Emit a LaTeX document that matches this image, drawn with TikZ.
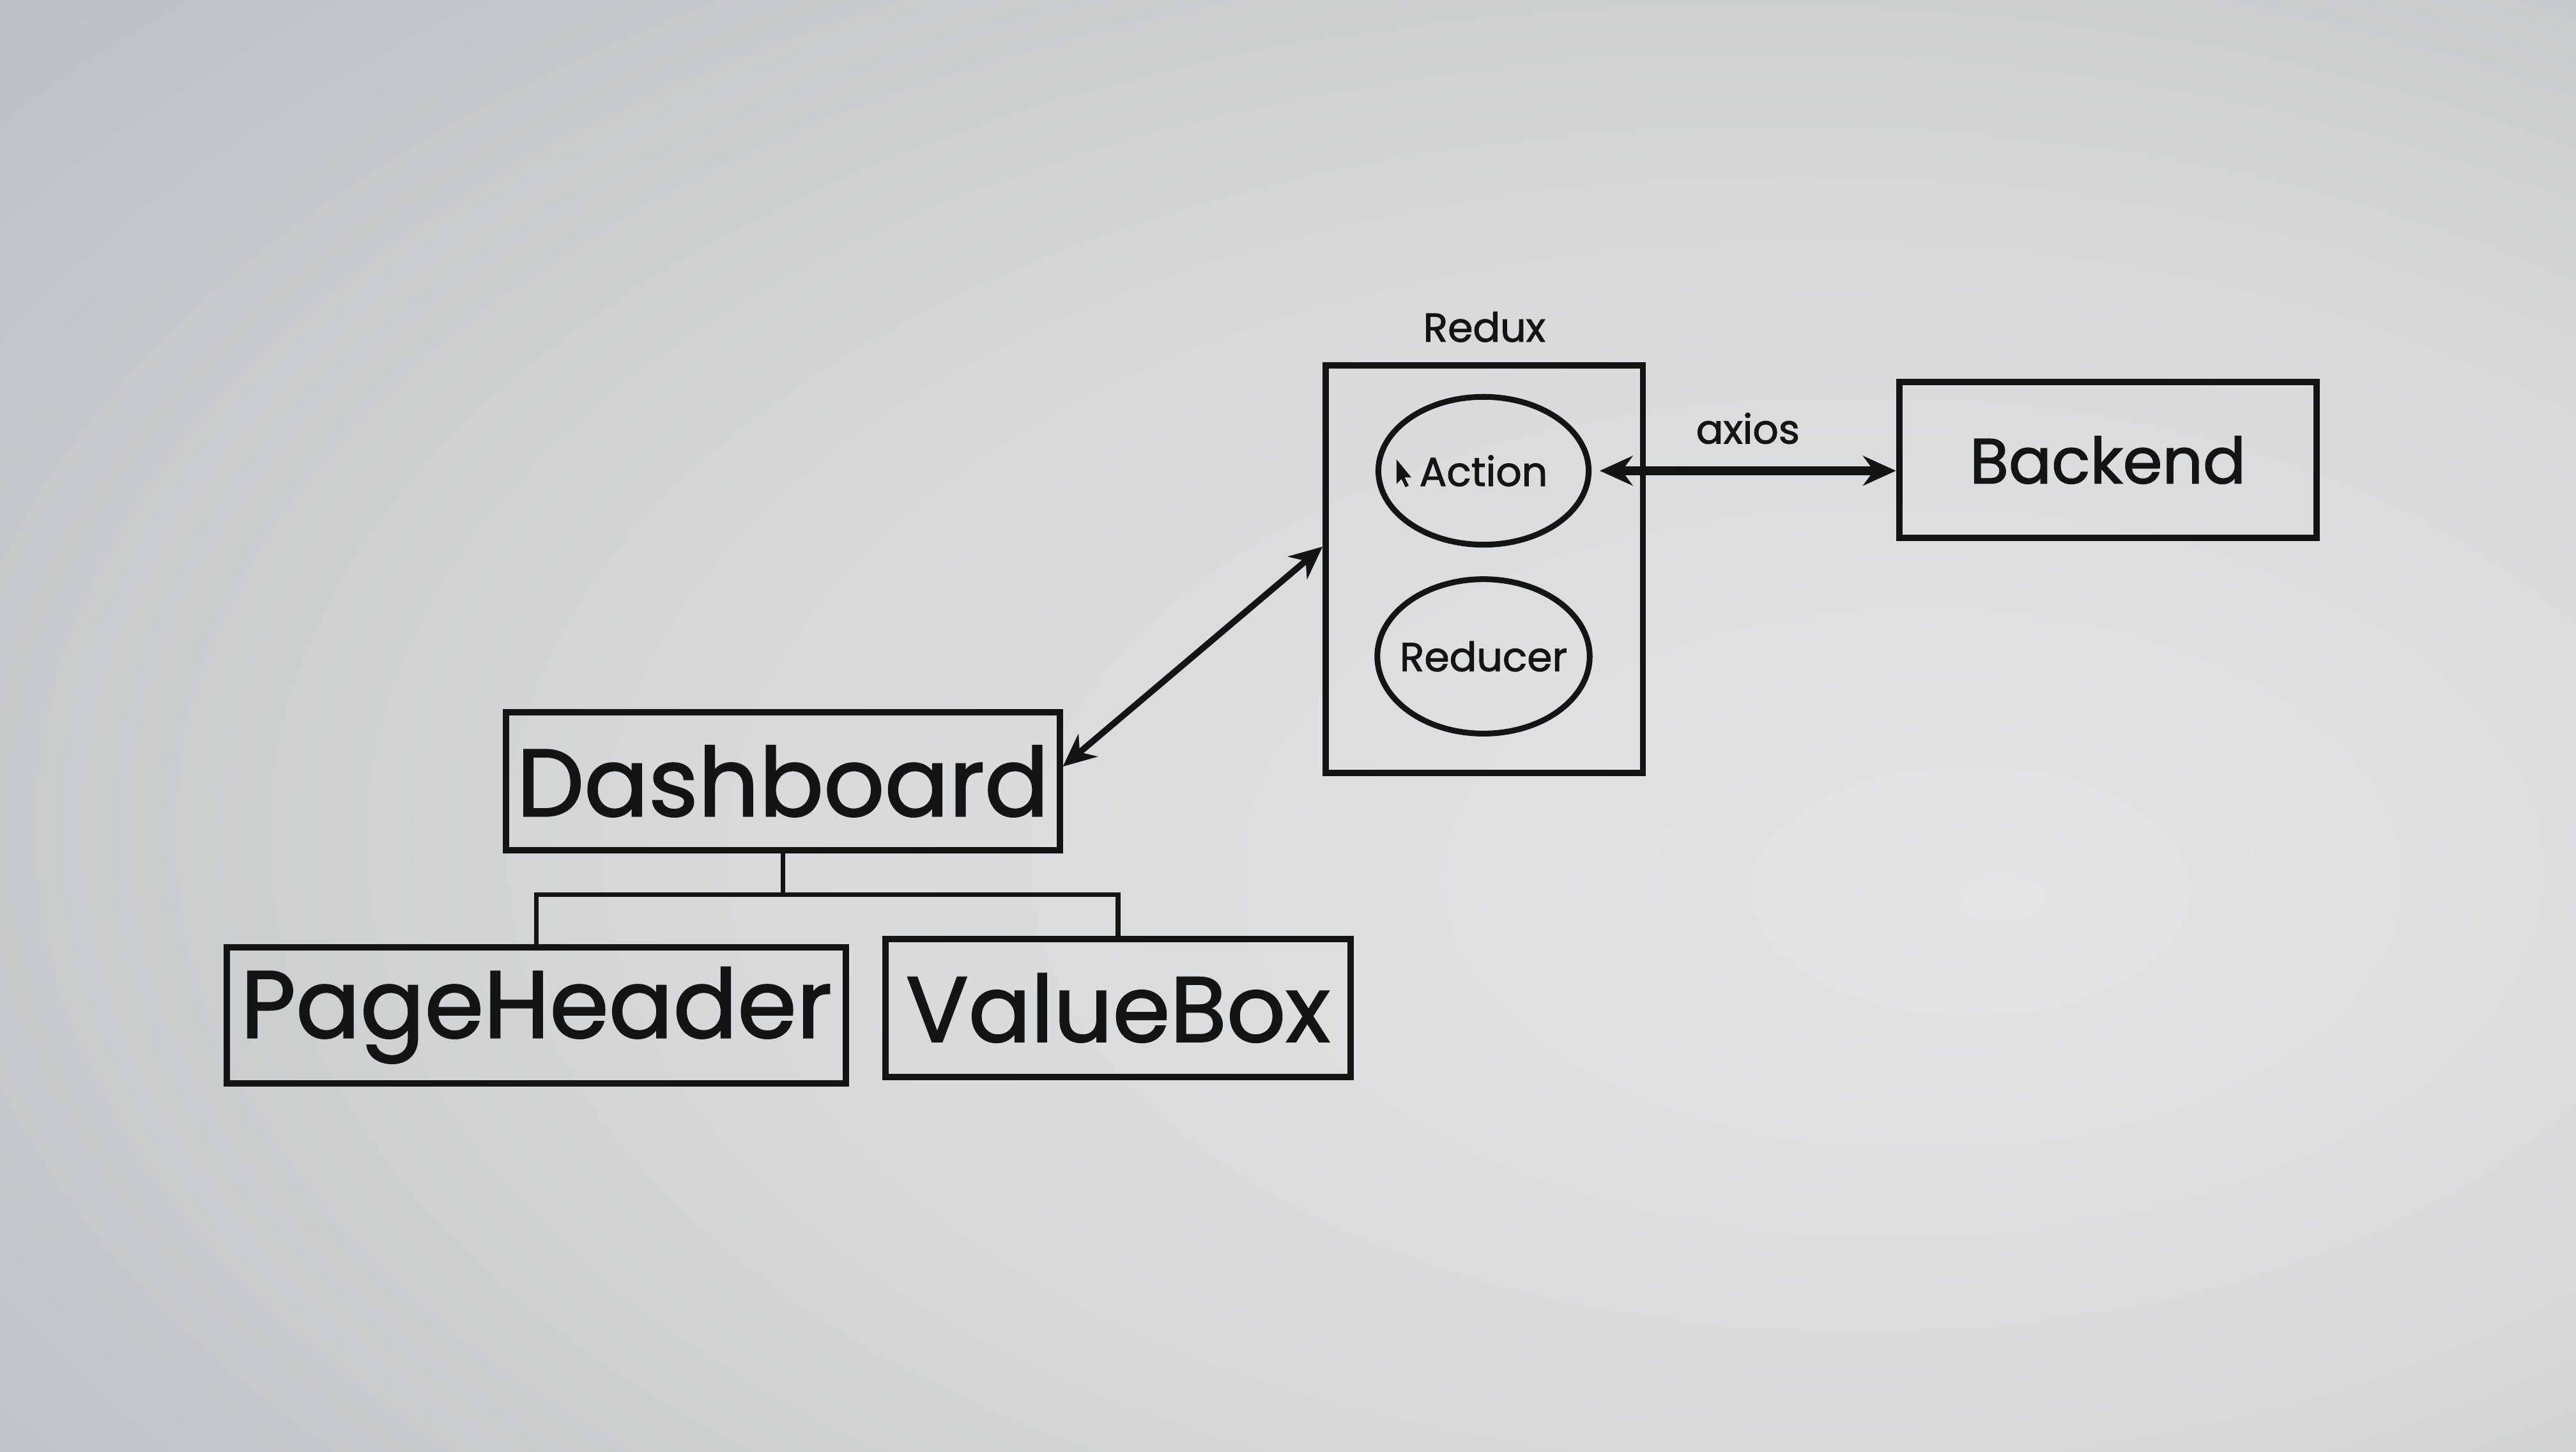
\documentclass[tikz,border=0pt]{standalone}
\usepackage{fontspec}
\setmainfont{Poppins}[FakeBold=1.6]
\usetikzlibrary{positioning,shapes.geometric,arrows.meta}

\definecolor{scrnA}{RGB}{228,230,230}
\definecolor{scrnB}{RGB}{214,216,217}
\definecolor{scrnC}{RGB}{178,182,185}
\definecolor{scrnD}{RGB}{138,142,146}
\definecolor{ink}{RGB}{20,20,20}
\pgfdeclareradialshading{screen}{\pgfpoint{14bp}{-6bp}}{color(0bp)=(scrnA); color(22bp)=(scrnB); color(50bp)=(scrnC); color(78bp)=(scrnD)}

\begin{document}
\begin{tikzpicture}[
  box/.style={draw=ink, line width=1.1pt, rectangle, inner sep=0pt, text=ink},
  bubble/.style={draw=ink, line width=1pt, ellipse, inner xsep=-1.5pt, inner ysep=0pt, minimum width=1.28cm, text=ink, font=\fontsize{7}{8}\selectfont},
  >={Stealth[length=2mm,width=1.8mm]}
]
\useasboundingbox (0,0) rectangle (15.68,8.836);
\shade[shading=screen] (0,0) rectangle (15.68,8.836);

% redux store
\node[box, minimum width=1.93cm, minimum height=2.48cm](redux) at (9.035,5.37){};
\node[above = 0.0cm of redux, text=ink, font=\fontsize{7}{8}\selectfont](reduxlabel){Redux};
\node[bubble, minimum height=0.90cm](action) at (9.03,5.97){Action};
\node[bubble, minimum height=0.94cm](reducer) at (9.03,4.84){Reducer};
\fill[ink] (8.50,6.04) -- (8.50,5.89) -- (8.53,5.92) -- (8.555,5.87) -- (8.575,5.88) -- (8.55,5.93) -- (8.59,5.93) -- cycle;

% backend
\node[box, minimum width=2.54cm, minimum height=0.95cm, font=\fontsize{11}{13}\selectfont](backend) at (12.83,6.035){Backend};
\draw[<->, line width=1.5pt, ink] ([xshift=0.5mm]action.east) -- node[above=0.02cm, font=\fontsize{7}{8}\selectfont](axios){axios} (action.east -| backend.west);

% components
\node[box, minimum width=3.37cm, minimum height=0.84cm, font=\fontsize{16.5}{19}\selectfont](dashboard) at (4.765,4.08){Dashboard};
\node[box, minimum width=3.77cm, minimum height=0.83cm, font=\fontsize{16.5}{19}\selectfont](pageheader) at (3.265,2.655){PageHeader};
\node[box, minimum width=2.83cm, minimum height=0.84cm, font=\fontsize{16}{19}\selectfont](valuebox) at (6.805,2.70){ValueBox};
\coordinate (split) at (4.765,3.39);
\draw[ink, line width=0.8pt] (dashboard.south) -- (split);
\draw[ink, line width=0.8pt] (split) -| (pageheader.north);
\draw[ink, line width=0.8pt] (split) -| (valuebox.north);

\draw[<->, line width=1.1pt, ink] (dashboard.3) -- (redux.172);
\end{tikzpicture}
\end{document}
